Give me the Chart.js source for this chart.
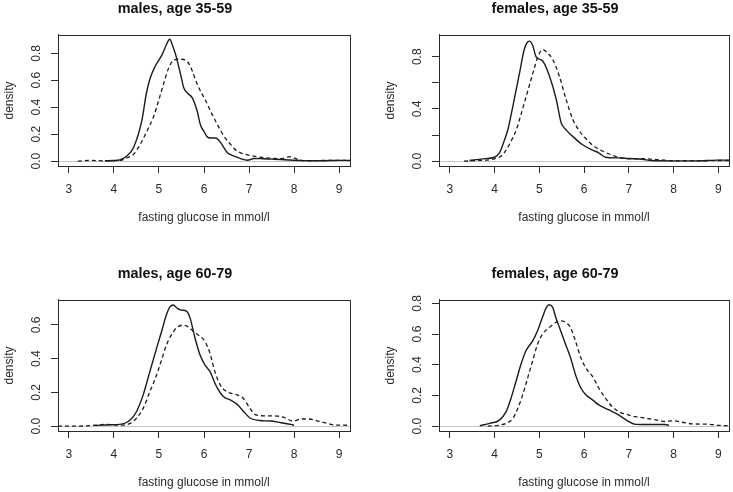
<!DOCTYPE html>
<html>
<head>
<meta charset="utf-8">
<script src="https://cdn.jsdelivr.net/npm/chart.js@4"></script>
<style>
  html, body { margin: 0; padding: 0; background: #fff; overflow: hidden; }
  body { width: 733px; height: 492px; position: relative; }
  canvas { position: absolute; }
</style>
</head>
<body>
<canvas id="p1" width="366" height="227" style="left:0;top:0"></canvas>
<canvas id="p2" width="366" height="227" style="left:381px;top:0"></canvas>
<canvas id="p3" width="366" height="227" style="left:0;top:265px"></canvas>
<canvas id="p4" width="366" height="227" style="left:381px;top:265px"></canvas>
<script>
// panel titles and axis texts
const titles = ['males, age 35-59', 'females, age 35-59', 'males, age 60-79', 'females, age 60-79'];
const xTitle = 'fasting glucose in mmol/l';
const yTitle = 'density';

// axis ticks
const xTicks = [3, 4, 5, 6, 7, 8, 9];
const yTicksHigh = [0, 0.2, 0.4, 0.6, 0.8];
const yTicksLow = [0, 0.2, 0.4, 0.6];
const yLabelsAll = ['0.0', '0.2', '0.4', '0.6', '0.8'];
const yLabelsSparse = ['0.0', '', '0.4', '', '0.8'];
const yLabelsLow = ['0.0', '0.2', '0.4', '0.6'];

// males 35-59
const m1SolidX = [3.8, 4.0, 4.13, 4.28, 4.435, 4.62, 4.72, 4.81, 4.92, 5.07, 5.16, 5.24, 5.30, 5.37, 5.48, 5.55, 5.65, 5.74, 5.85, 5.92, 6.0, 6.07, 6.15, 6.26, 6.37, 6.52, 6.67, 6.8, 6.97, 7.11, 7.3, 7.5, 7.7, 7.9, 8.2, 8.6, 9.0, 9.24];
const m1SolidY = [0.003, 0.005, 0.01, 0.037, 0.10, 0.30, 0.50, 0.62, 0.706, 0.79, 0.86, 0.904, 0.86, 0.79, 0.644, 0.545, 0.50, 0.47, 0.37, 0.27, 0.22, 0.18, 0.172, 0.172, 0.137, 0.062, 0.037, 0.02, 0.007, 0.02, 0.018, 0.015, 0.012, 0.008, 0.004, 0.003, 0.006, 0.005];
const m1DashX = [3.2, 3.5, 3.8, 4.0, 4.15, 4.29, 4.435, 4.585, 4.70, 4.88, 4.99, 5.1, 5.22, 5.33, 5.45, 5.59, 5.67, 5.74, 5.85, 6.04, 6.18, 6.3, 6.44, 6.59, 6.74, 6.97, 7.15, 7.34, 7.55, 7.71, 7.9, 8.08, 8.22, 8.5, 8.8, 9.0, 9.24];
const m1DashY = [0.0, 0.005, 0.002, 0.003, 0.006, 0.025, 0.05, 0.124, 0.20, 0.33, 0.446, 0.57, 0.694, 0.75, 0.756, 0.75, 0.72, 0.669, 0.57, 0.446, 0.347, 0.27, 0.186, 0.124, 0.074, 0.046, 0.035, 0.025, 0.02, 0.018, 0.033, 0.013, 0.002, 0.004, 0.006, 0.006, 0.005];

// females 35-59
const f1SolidX = [3.44, 3.74, 4.0, 4.11, 4.2, 4.30, 4.41, 4.56, 4.66, 4.72, 4.78, 4.85, 4.93, 5.08, 5.23, 5.38, 5.49, 5.6, 5.74, 5.96, 6.19, 6.33, 6.48, 6.78, 7.0, 7.3, 7.5, 8.0, 8.5, 9.0, 9.24];
const f1SolidY = [0.005, 0.018, 0.03, 0.064, 0.14, 0.243, 0.42, 0.677, 0.85, 0.905, 0.92, 0.89, 0.80, 0.766, 0.651, 0.473, 0.294, 0.24, 0.192, 0.128, 0.085, 0.064, 0.03, 0.025, 0.02, 0.015, 0.005, 0.002, 0.002, 0.008, 0.008];
const f1DashX = [3.32, 3.6, 4.0, 4.15, 4.25, 4.35, 4.49, 4.56, 4.71, 4.86, 4.97, 5.08, 5.18, 5.30, 5.45, 5.60, 5.75, 5.9, 6.05, 6.2, 6.4, 6.6, 6.8, 7.07, 7.3, 7.7, 8.0, 8.5, 9.0, 9.24];
const f1DashY = [0.0, 0.005, 0.018, 0.04, 0.08, 0.14, 0.243, 0.32, 0.498, 0.677, 0.80, 0.856, 0.83, 0.78, 0.651, 0.473, 0.32, 0.23, 0.17, 0.12, 0.08, 0.05, 0.028, 0.018, 0.02, 0.01, 0.003, 0.002, 0.005, 0.005];

// males 60-79
const m2SolidX = [3.6, 3.9, 4.13, 4.36, 4.50, 4.65, 4.8, 4.95, 5.06, 5.17, 5.24, 5.32, 5.41, 5.50, 5.61, 5.69, 5.80, 5.91, 6.02, 6.13, 6.28, 6.43, 6.58, 6.73, 6.87, 7.02, 7.24, 7.48, 7.71, 7.93, 8.0];
const m2SolidY = [0.004, 0.008, 0.01, 0.036, 0.085, 0.185, 0.324, 0.463, 0.562, 0.662, 0.705, 0.717, 0.697, 0.687, 0.681, 0.641, 0.522, 0.423, 0.363, 0.324, 0.234, 0.175, 0.155, 0.13, 0.09, 0.048, 0.033, 0.03, 0.02, 0.01, 0.005];
const m2DashX = [2.76, 3.2, 3.6, 3.8, 4.13, 4.36, 4.50, 4.65, 4.8, 4.95, 5.06, 5.17, 5.28, 5.39, 5.54, 5.65, 5.76, 5.91, 6.02, 6.13, 6.24, 6.36, 6.50, 6.73, 6.87, 7.02, 7.15, 7.34, 7.56, 7.79, 7.97, 8.16, 8.34, 8.53, 8.75, 8.9, 9.1, 9.24];
const m2DashY = [0.0, 0.0, 0.005, 0.01, 0.006, 0.016, 0.046, 0.105, 0.205, 0.304, 0.393, 0.483, 0.542, 0.582, 0.598, 0.588, 0.562, 0.532, 0.502, 0.433, 0.324, 0.244, 0.205, 0.185, 0.165, 0.105, 0.066, 0.061, 0.061, 0.05, 0.03, 0.042, 0.042, 0.03, 0.016, 0.006, 0.006, 0.004];

// females 60-79
const f2SolidX = [3.67, 3.89, 4.11, 4.26, 4.37, 4.48, 4.59, 4.70, 4.85, 4.96, 5.07, 5.16, 5.22, 5.30, 5.37, 5.48, 5.59, 5.70, 5.81, 5.93, 6.04, 6.19, 6.33, 6.56, 6.78, 7.0, 7.15, 7.4, 7.8, 7.9];
const f2SolidY = [0.002, 0.018, 0.039, 0.094, 0.182, 0.291, 0.401, 0.489, 0.554, 0.62, 0.708, 0.774, 0.791, 0.774, 0.708, 0.62, 0.532, 0.445, 0.335, 0.248, 0.204, 0.171, 0.138, 0.105, 0.072, 0.029, 0.011, 0.01, 0.01, 0.005];
const f2DashX = [3.85, 4.11, 4.26, 4.41, 4.52, 4.63, 4.74, 4.85, 4.96, 5.07, 5.22, 5.37, 5.48, 5.59, 5.70, 5.81, 5.93, 6.04, 6.19, 6.33, 6.48, 6.63, 6.78, 7.0, 7.15, 7.3, 7.6, 7.8, 8.0, 8.2, 8.4, 8.8, 9.0, 9.24];
const f2DashY = [0.0, 0.006, 0.018, 0.05, 0.116, 0.204, 0.313, 0.423, 0.532, 0.598, 0.642, 0.675, 0.686, 0.675, 0.642, 0.554, 0.445, 0.379, 0.324, 0.248, 0.182, 0.127, 0.094, 0.072, 0.061, 0.055, 0.04, 0.03, 0.035, 0.025, 0.015, 0.012, 0.005, 0.003];

const FONT = '"Liberation Sans", Arial, Helvetica, sans-serif';
const INK = '#2b2b2b';
Chart.defaults.font.family = FONT;
Chart.defaults.color = INK;

const toPoints = (xs, ys) => xs.map((x, i) => ({ x: x, y: ys[i] }));

// box around the plot + rotated y tick labels (R style)
const rFrame = {
    id: 'rFrame',
    afterDraw(chart, args, opts) {
        const { ctx, chartArea: a } = chart;
        const y = chart.scales.y;
        ctx.save();
        ctx.strokeStyle = INK;
        ctx.lineWidth = 1;
        ctx.strokeRect(Math.round(a.left) + 0.5, Math.round(a.top) + 0.5,
            Math.round(a.width), Math.round(a.height));
        ctx.fillStyle = INK;
        ctx.font = '12px ' + FONT;
        ctx.textAlign = 'center';
        ctx.textBaseline = 'middle';
        y.ticks.forEach((t, i) => {
            const txt = opts.labels[i];
            if (!txt) return;
            ctx.save();
            ctx.translate(37, y.getPixelForValue(t.value));
            ctx.rotate(-Math.PI / 2);
            ctx.fillText(txt, 0, 0);
            ctx.restore();
        });
        ctx.restore();
    }
};

function makePanel(id, title, solidX, solidY, dashX, dashY, yTicks, yLabels, yMin, yMax, padRight) {
    new Chart(document.getElementById(id), {
        type: 'line',
        data: {
            datasets: [
                {
                    data: toPoints(solidX, solidY),
                    borderColor: '#1c1c1c',
                    borderWidth: 1.4,
                    pointRadius: 0,
                    cubicInterpolationMode: 'monotone',
                    fill: false
                },
                {
                    data: toPoints(dashX, dashY),
                    borderColor: '#1c1c1c',
                    borderWidth: 1.3,
                    borderDash: [4, 3],
                    pointRadius: 0,
                    cubicInterpolationMode: 'monotone',
                    fill: false
                }
            ]
        },
        options: {
            responsive: false,
            animation: false,
            devicePixelRatio: 1,
            layout: { padding: { left: 0, right: padRight, top: 0, bottom: 0 } },
            plugins: {
                legend: { display: false },
                tooltip: { enabled: false },
                title: {
                    display: true,
                    text: title,
                    color: '#111',
                    font: { size: 14.4, weight: 'bold' },
                    padding: { top: 0, bottom: 17.7 }
                },
                rFrame: { labels: yLabels }
            },
            scales: {
                x: {
                    type: 'linear',
                    min: 2.76,
                    max: 9.24,
                    afterBuildTicks: s => { s.ticks = xTicks.map(v => ({ value: v })); },
                    afterFit: s => { s.height = 61; },
                    ticks: {
                        color: INK,
                        font: { size: 12 },
                        padding: 9,
                        maxRotation: 0,
                        autoSkip: false
                    },
                    grid: {
                        drawOnChartArea: false,
                        drawTicks: true,
                        tickLength: 7,
                        tickColor: INK
                    },
                    border: { color: INK },
                    title: {
                        display: true,
                        text: xTitle,
                        color: INK,
                        font: { size: 12 },
                        padding: { top: 0, bottom: 2 }
                    }
                },
                y: {
                    type: 'linear',
                    min: yMin,
                    max: yMax,
                    afterBuildTicks: s => { s.ticks = yTicks.map(v => ({ value: v })); },
                    afterFit: s => { s.width = 58; },
                    ticks: { display: false },
                    grid: {
                        drawOnChartArea: true,
                        drawTicks: true,
                        tickLength: 7,
                        tickColor: INK,
                        color: c => (c.tick && c.tick.value === 0) ? '#c4c4c4' : 'rgba(0,0,0,0)'
                    },
                    border: { color: INK },
                    title: {
                        display: true,
                        text: yTitle,
                        color: INK,
                        font: { size: 12 },
                        padding: { top: 2, bottom: 0 }
                    }
                }
            }
        },
        plugins: [rFrame]
    });
}

makePanel('p1', titles[0], m1SolidX, m1SolidY, m1DashX, m1DashY, yTicksHigh, yLabelsAll, -0.036, 0.936, 16);
makePanel('p2', titles[1], f1SolidX, f1SolidY, f1DashX, f1DashY, yTicksHigh, yLabelsSparse, -0.037, 0.967, 18);
makePanel('p3', titles[2], m2SolidX, m2SolidY, m2DashX, m2DashY, yTicksLow, yLabelsLow, -0.029, 0.747, 16);
makePanel('p4', titles[3], f2SolidX, f2SolidY, f2DashX, f2DashY, yTicksHigh, yLabelsAll, -0.032, 0.822, 18);
</script>
</body>
</html>
